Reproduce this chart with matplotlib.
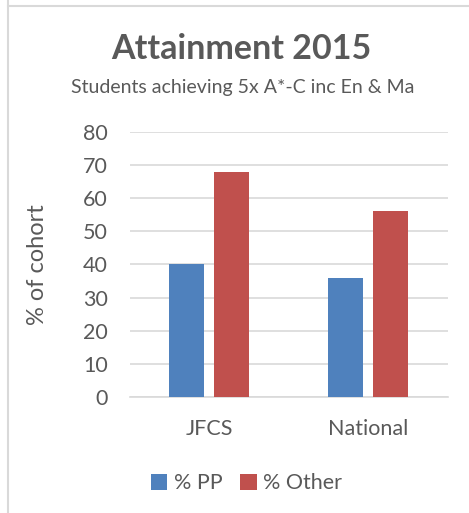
import numpy as np
import matplotlib.pyplot as plt
from matplotlib.lines import Line2D

plt.rcParams['font.family'] = ['Lato', 'DejaVu Sans']

categories = ['JFCS', 'National']
pp_values = [40, 36]
other_values = [68, 56]
series_names = ['% PP', '% Other']
yticks = [0, 10, 20, 30, 40, 50, 60, 70, 80]

blue = '#4F81BD'
red = '#C0504D'
grey = '#595959'

fig = plt.figure(figsize=(4.69, 5.13), dpi=100)
ax = fig.add_axes([0.277, 0.226, 0.678, 0.517])

x = np.arange(len(categories))
w = 0.22
gap = 0.063
ax.bar(x - (w + gap) / 2, pp_values, w, color=blue, label=series_names[0], zorder=3)
ax.bar(x + (w + gap) / 2, other_values, w, color=red, label=series_names[1], zorder=3)

ax.set_xlim(-0.5, 1.5)
ax.set_ylim(0, 80)
ax.set_yticks(yticks)
ax.set_xticks(x)
ax.set_xticklabels(categories)
ax.yaxis.grid(True, color='#D9D9D9', linewidth=1.2, zorder=0)
for s in ['top', 'right', 'left']:
    ax.spines[s].set_visible(False)
ax.spines['bottom'].set_color('#D9D9D9')
ax.spines['bottom'].set_linewidth(1.2)
ax.tick_params(length=0, labelsize=15.5, colors=grey)
ax.tick_params(axis='y', pad=16)
ax.tick_params(axis='x', pad=16)
ax.set_ylabel('% of cohort', fontsize=17, color=grey, labelpad=25)

fig.text(0.515, 0.905, 'Attainment 2015', ha='center', va='center',
         fontsize=24.5, fontweight='bold', color=grey)
fig.text(0.518, 0.830, 'Students achieving 5x A*-C inc En & Ma', ha='center',
         va='center', fontsize=14, color=grey)

fig.legend(loc='center', bbox_to_anchor=(0.526, 0.058), ncol=2, frameon=False,
           fontsize=15.5, labelcolor=grey, handlelength=0.75, handleheight=0.75,
           handletextpad=0.3, columnspacing=0.83)

# chart border (partially visible)
fig.add_artist(Line2D([8 / 469, 1], [1 - 6 / 513, 1 - 6 / 513], color='#D9D9D9', lw=1.5))
fig.add_artist(Line2D([8 / 469, 8 / 469], [0, 1], color='#D9D9D9', lw=1.5))

fig.savefig('out.png', dpi=100)
